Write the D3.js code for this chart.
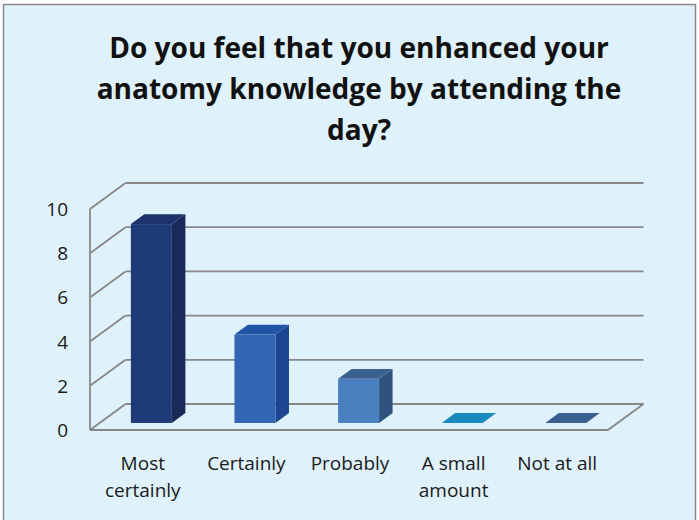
<!DOCTYPE html>
<html><head><meta charset="utf-8">
<script src="https://cdn.jsdelivr.net/npm/d3@7"></script>
<style>html,body{margin:0;padding:0;background:#fff;}svg{display:block;}</style>
</head><body>
<script>
const categories = [["Most","certainly"],["Certainly"],["Probably"],["A small","amount"],["Not at all"]];
const values = [9, 4, 2, 0, 0];
const yTicks = [0, 2, 4, 6, 8, 10];
const titleLines = ["Do you feel that you enhanced your", "anatomy knowledge by attending the", "day?"];
const faceColors = [
  {front:"#1f3a78", side:"#18295a", top:"#1d336b"},
  {front:"#3366b2", side:"#1c4690", top:"#1f54a6"},
  {front:"#4a80c0", side:"#2f527f", top:"#3a6090"},
  {front:"#1a8abf", side:"#136a94", top:"#1a8abf"},
  {front:"#3a6090", side:"#2f527f", top:"#3a6090"}
];

const W = 699, H = 520;
const svg = d3.select("body").append("svg").attr("width", W).attr("height", H);
svg.append("rect").attr("x",3.5).attr("y",4.5).attr("width",692).attr("height",H+10)
  .attr("fill","#dff1fa").attr("stroke","#8a8a8a").attr("stroke-width",1.5);

const font = "'Open Sans', 'Noto Sans', sans-serif";
// title
const tg = svg.append("g");
const tY = [47, 88, 129];
titleLines.forEach((t,i)=>{
  tg.append("text").attr("x",359).attr("y",tY[i]).attr("text-anchor","middle")
    .attr("dominant-baseline","central")
    .attr("font-family",font).attr("font-weight","bold").attr("font-size",26)
    .attr("fill","#111").text(t);
});
const first = tg.select("text").node();
const wl = first.getComputedTextLength();
const fs = 26 * 500 / wl;
tg.selectAll("text").attr("font-size", fs);

// 3D geometry
const x0 = 90, x1 = 608;
const DX = 35.5, DY = -26;
const y = d3.scaleLinear().domain([0,10]).range([430,209]);
const xb = d3.scaleBand().domain(d3.range(categories.length)).range([x0,x1]).paddingInner(0).paddingOuter(0);
const gridColor = "#878787";

const wall = svg.append("g").attr("stroke",gridColor).attr("stroke-width",1.8).attr("fill","none");
yTicks.forEach(v=>{
  const yy = y(v);
  wall.append("line").attr("x1",x0).attr("y1",yy).attr("x2",x0+DX).attr("y2",yy+DY);
  wall.append("line").attr("x1",x0+DX).attr("y1",yy+DY).attr("x2",x1+DX).attr("y2",yy+DY);
});
wall.append("line").attr("x1",x0).attr("y1",y(0)).attr("x2",x0).attr("y2",y(10));
wall.append("line").attr("x1",x0).attr("y1",y(0)).attr("x2",x1).attr("y2",y(0));
wall.append("line").attr("x1",x1).attr("y1",y(0)).attr("x2",x1+DX).attr("y2",y(0)+DY);

// y tick labels
svg.append("g").selectAll("text").data(yTicks).join("text")
  .attr("x",68).attr("y",d=>y(d)).attr("text-anchor","end").attr("dominant-baseline","central")
  .attr("font-family",font).attr("font-size",19).attr("fill","#1a1a1a").text(d=>d);

// bars
const f1 = 0.27, f2 = 0.65;
const bw = 41;
const bars = svg.append("g");
values.forEach((v,i)=>{
  const c = faceColors[i];
  const fx = xb(i) + (xb.bandwidth()-bw)/2 + DX*f1;
  const fyb = y(0) + DY*f1, fyt = y(v) + DY*f1;
  const ddx = DX*(f2-f1), ddy = DY*(f2-f1);
  const pts = a=>a.map(p=>p.join(",")).join(" ");
  if (v > 0) {
    bars.append("polygon").attr("points",pts([[fx+bw,fyb],[fx+bw+ddx,fyb+ddy],[fx+bw+ddx,fyt+ddy],[fx+bw,fyt]])).attr("fill",c.side);
    bars.append("rect").attr("x",fx).attr("y",fyt).attr("width",bw).attr("height",fyb-fyt).attr("fill",c.front);
  }
  bars.append("polygon").attr("points",pts([[fx,fyt],[fx+ddx,fyt+ddy],[fx+bw+ddx,fyt+ddy],[fx+bw,fyt]])).attr("fill",c.top);
});

// category labels
const cl = svg.append("g");
categories.forEach((lines,i)=>{
  const cx = xb(i) + xb.bandwidth()/2 + 1;
  lines.forEach((t,j)=>{
    cl.append("text").attr("x",cx).attr("y",463+j*27).attr("text-anchor","middle")
      .attr("dominant-baseline","central").attr("font-family",font).attr("font-size",19)
      .attr("fill","#1a1a1a").text(t);
  });
});
</script>
</body></html>
